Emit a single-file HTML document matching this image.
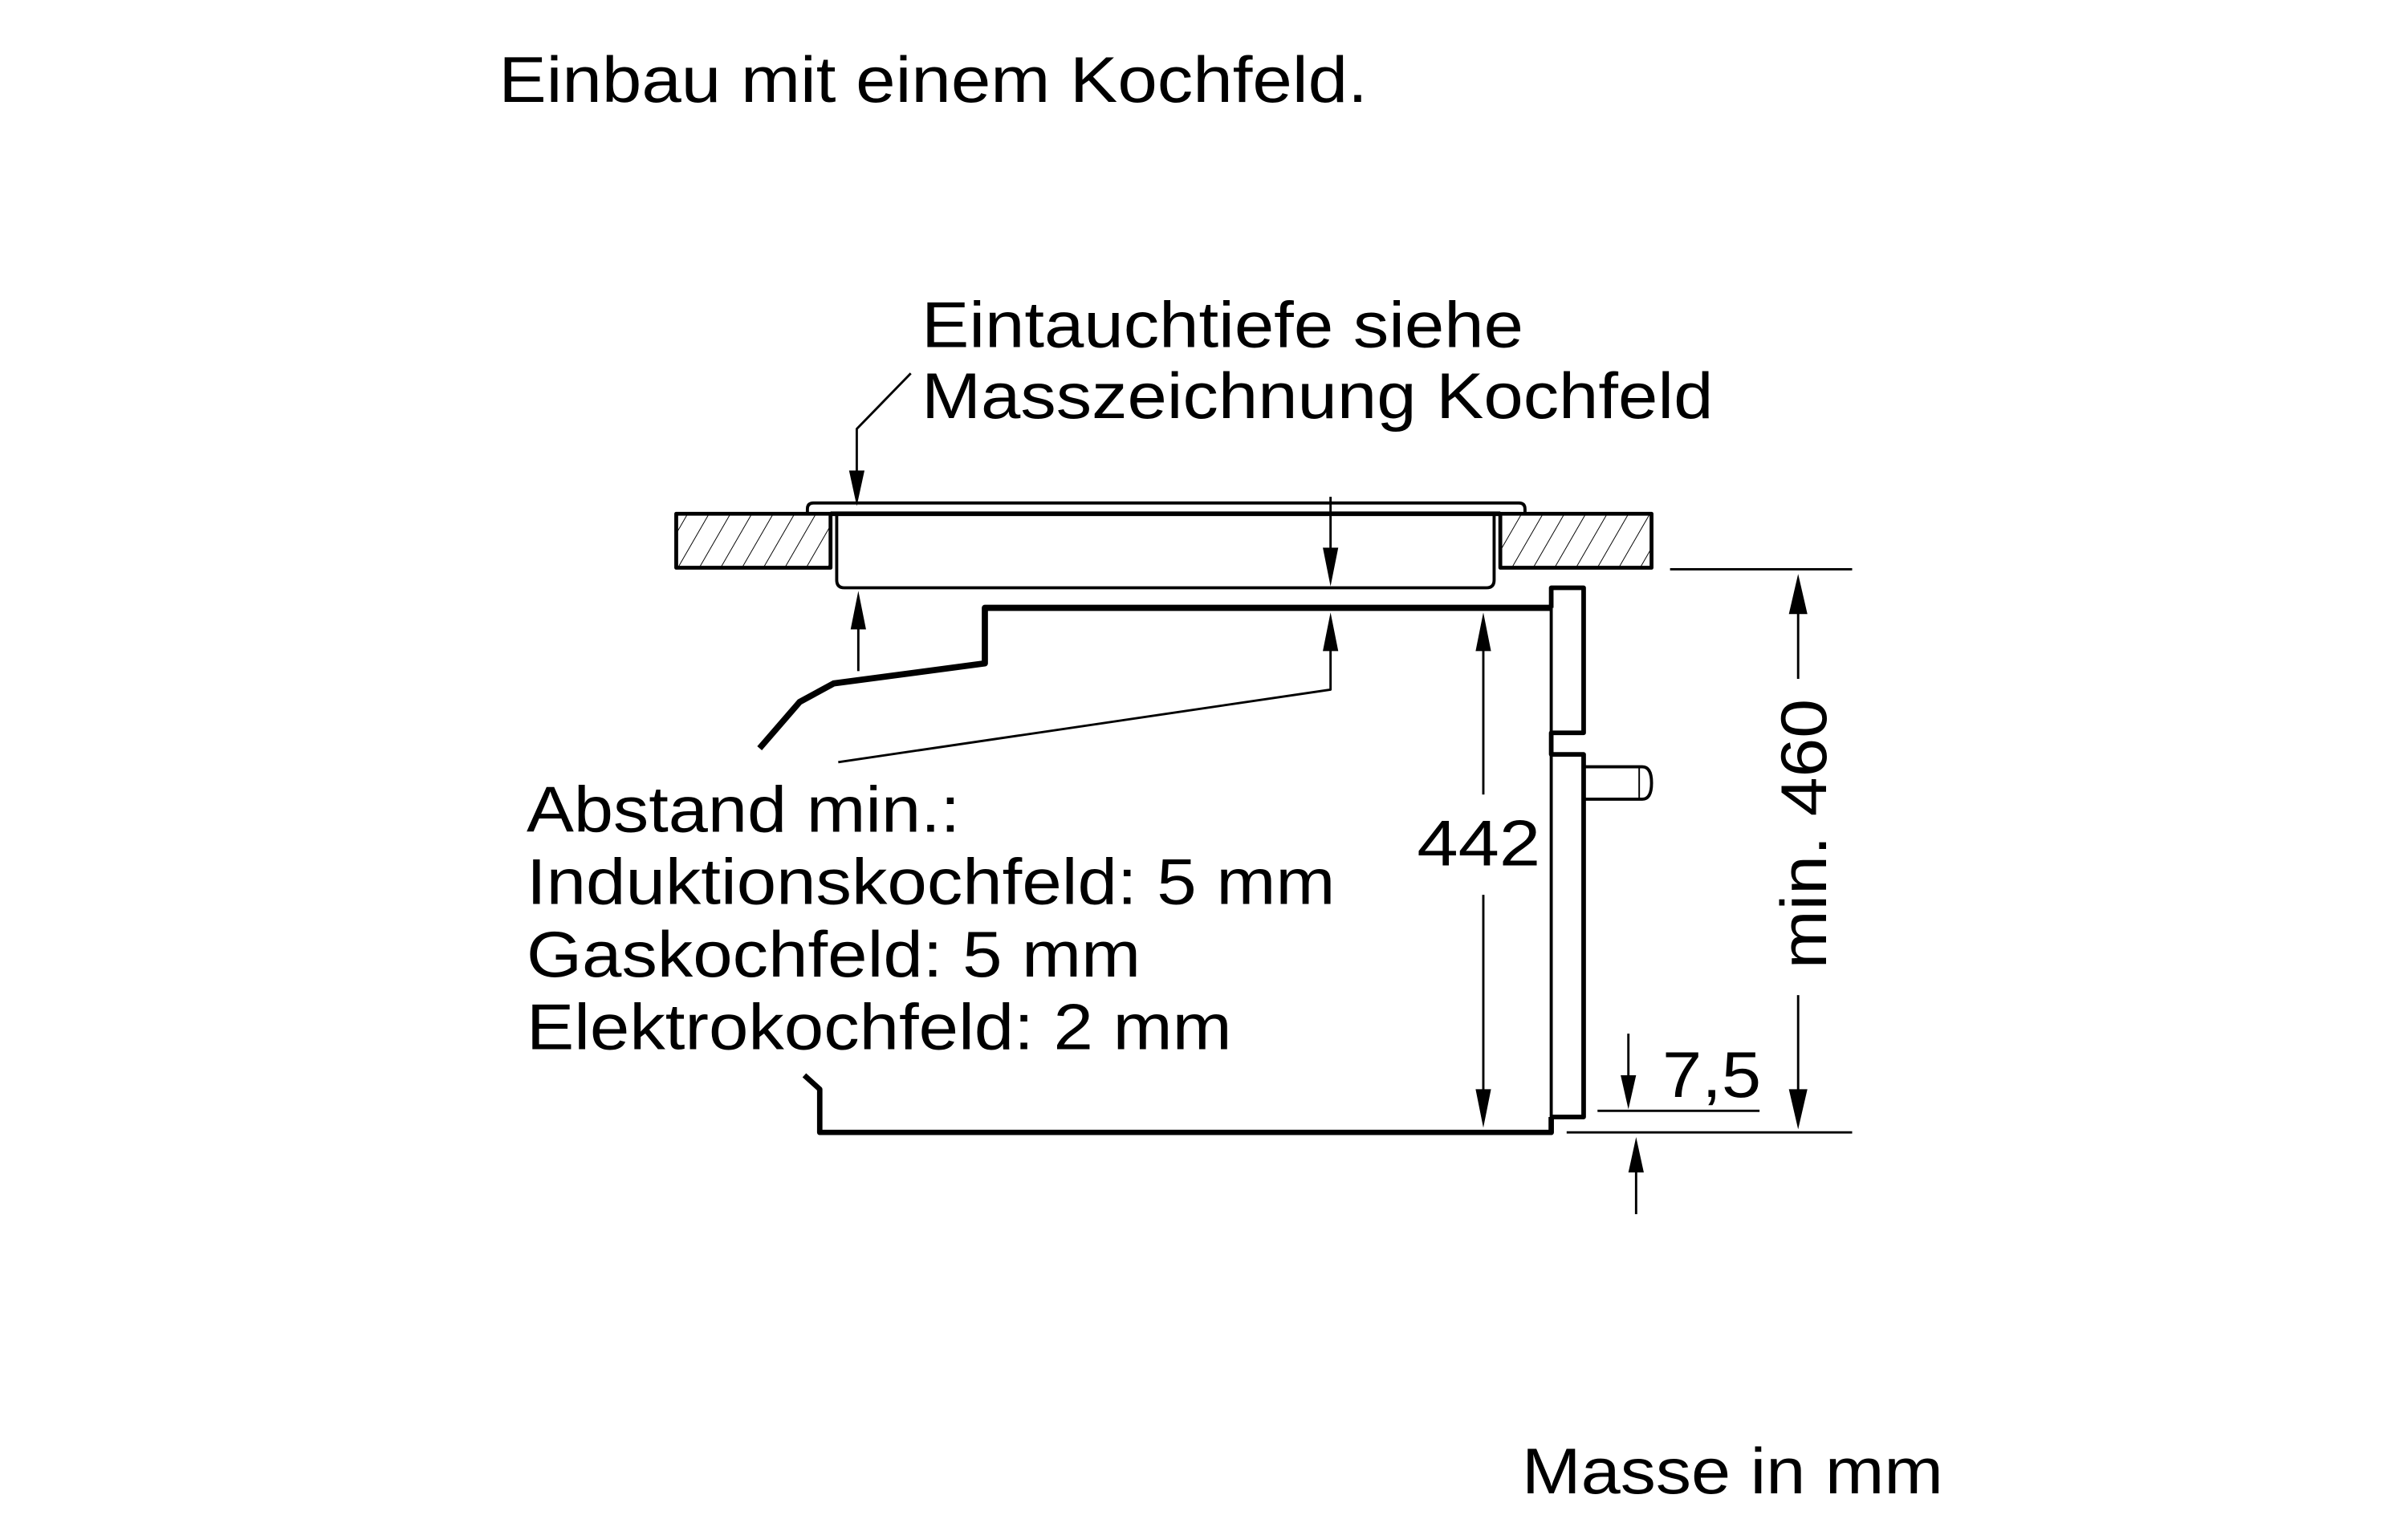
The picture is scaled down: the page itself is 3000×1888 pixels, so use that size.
<!DOCTYPE html>
<html><head><meta charset="utf-8"><style>html,body{margin:0;padding:0;background:#fff}svg{display:block}</style></head>
<body>
<svg width="3000" height="1888" viewBox="0 0 1560 982" xmlns="http://www.w3.org/2000/svg">
<defs>
<pattern id="h" patternUnits="userSpaceOnUse" width="12" height="12" patternTransform="rotate(30)">
<line x1="0" y1="0" x2="0" y2="12" stroke="#000" stroke-width="1"/>
</pattern>
</defs>
<rect width="1560" height="982" fill="#fff"/>
<g font-family="'Liberation Sans', Arial, sans-serif" font-size="42" fill="#000">
<text x="323" y="66" textLength="563" lengthAdjust="spacingAndGlyphs">Einbau mit einem Kochfeld.</text>
<text x="597" y="225" textLength="390" lengthAdjust="spacingAndGlyphs">Eintauchtiefe siehe</text>
<text x="597" y="271" textLength="513" lengthAdjust="spacingAndGlyphs">Masszeichnung Kochfeld</text>
<text x="341" y="539" textLength="281" lengthAdjust="spacingAndGlyphs">Abstand min.:</text>
<text x="341" y="586" textLength="524" lengthAdjust="spacingAndGlyphs">Induktionskochfeld: 5 mm</text>
<text x="341" y="633" textLength="398" lengthAdjust="spacingAndGlyphs">Gaskochfeld: 5 mm</text>
<text x="341" y="680" textLength="457" lengthAdjust="spacingAndGlyphs">Elektrokochfeld: 2 mm</text>
<text x="918" y="561" textLength="80" lengthAdjust="spacingAndGlyphs">442</text>
<text x="1077" y="711" textLength="64" lengthAdjust="spacingAndGlyphs">7,5</text>
<text x="986" y="968" textLength="273" lengthAdjust="spacingAndGlyphs">Masse in mm</text>
<text transform="translate(1183,628) rotate(-90)" textLength="175" lengthAdjust="spacingAndGlyphs">min. 460</text>
</g>
<g fill="none" stroke="#000" stroke-linejoin="round">
<!-- worktop -->
<rect x="438" y="333" width="100" height="35" fill="url(#h)" stroke-width="2.5"/>
<rect x="972" y="333" width="98" height="35" fill="url(#h)" stroke-width="2.5"/>
<line x1="538" y1="333" x2="972" y2="333" stroke-width="3"/>
<!-- hob -->
<path d="M523,333 L523,330 Q523,326 527,326 L984,326 Q988,326 988,330 L988,333" stroke-width="2"/>
<path d="M542,333 L542,376 Q542,381 547,381 L963,381 Q968,381 968,376 L968,333" stroke-width="2"/>
<!-- leader -->
<polyline points="590,242 555,278 555,312" stroke-width="1.5"/>
<!-- oven body -->
<polyline points="1005,394 638,394 638,430 540,443 518,455 492,485" stroke-width="4"/>
<polyline points="521,697 531,706 531,734 1005,734 1005,724" stroke-width="3.5"/>
<!-- door -->
<polyline points="1005,394 1005,381 1026,381 1026,475 1005,475 1005,489 1026,489 1026,724 1005,724" stroke-width="3"/>
<line x1="1005" y1="381" x2="1005" y2="734" stroke-width="2"/>
<path d="M1026,497 L1064,497 Q1070,497 1070,507.5 Q1070,518 1064,518 L1026,518" stroke-width="2"/>
<line x1="1062" y1="498" x2="1062" y2="517" stroke-width="1"/>
<!-- thin dims -->
<g stroke-width="1.5">
<line x1="862" y1="322" x2="862" y2="360"/>
<line x1="556" y1="405" x2="556" y2="435"/>
<polyline points="862,420 862,447 543,494"/>
<line x1="961" y1="420" x2="961" y2="515"/>
<line x1="961" y1="580" x2="961" y2="708"/>
<line x1="1082" y1="369" x2="1200" y2="369"/>
<line x1="1015" y1="734" x2="1200" y2="734"/>
<line x1="1165" y1="395" x2="1165" y2="440"/>
<line x1="1165" y1="645" x2="1165" y2="710"/>
<line x1="1035" y1="720" x2="1140" y2="720"/>
<line x1="1055" y1="670" x2="1055" y2="700"/>
<line x1="1060" y1="758" x2="1060" y2="787"/>
</g>
</g>
<g fill="#000">
<polygon points="555,328 550,305 560,305"/>
<polygon points="862,380 857,355 867,355"/>
<polygon points="556,383 551,408 561,408"/>
<polygon points="862,397 857,422 867,422"/>
<polygon points="961,397 956,422 966,422"/>
<polygon points="961,731 956,706 966,706"/>
<polygon points="1165,372 1159,398 1171,398"/>
<polygon points="1165,732 1159,706 1171,706"/>
<polygon points="1055,719 1050,697 1060,697"/>
<polygon points="1060,737 1055,760 1065,760"/>
</g>
</svg>
</body></html>
